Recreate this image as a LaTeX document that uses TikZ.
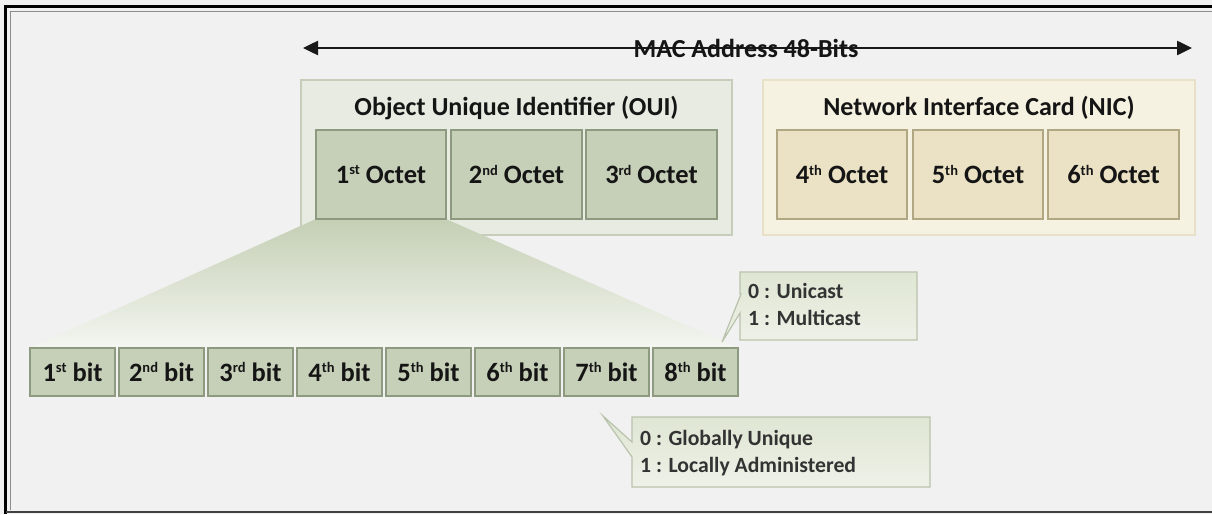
\documentclass[tikz,border=0pt]{standalone}
\usepackage{fontspec}
\setmainfont{Carlito}
\usetikzlibrary{arrows.meta}
\newcommand\ordsup[1]{\raisebox{8.5pt}{\fontsize{14.5}{15}\selectfont #1}}
\definecolor{bg}{HTML}{F1F1F1}
\definecolor{txt}{HTML}{151515}
\definecolor{ctxt}{HTML}{333333}
\definecolor{ouiF}{HTML}{E7EBE2}
\definecolor{ouiB}{HTML}{C6CEBB}
\definecolor{octF}{HTML}{C6D0B8}
\definecolor{octB}{HTML}{8D9A7F}
\definecolor{nicF}{HTML}{F6F2E1}
\definecolor{nicB}{HTML}{E8E1C8}
\definecolor{nocF}{HTML}{EBE2C5}
\definecolor{nocB}{HTML}{B2A783}
\definecolor{calB}{HTML}{B9C3AC}
\definecolor{calT}{HTML}{DFE6D3}
\definecolor{calBot}{HTML}{EEF1E8}
\definecolor{trapT}{HTML}{C4CFB4}
\definecolor{trapB}{HTML}{F4F6F1}
\tikzset{
  boxfont/.style={font=\fontsize{26.5}{30}\selectfont\bfseries, text=txt},
  group/.style={draw=ouiB, fill=ouiF, line width=1.5pt, inner sep=0pt},
  nicgroup/.style={draw=nicB, fill=nicF, line width=1.5pt, inner sep=0pt},
  titletext/.style={font=\fontsize{26}{30}\selectfont\bfseries, text=txt, inner sep=0pt},
  octetbox/.style={boxfont, draw=octB, fill=octF, line width=1.5pt, minimum width=130pt, minimum height=89pt, inner sep=0pt},
  nicoctet/.style={octetbox, draw=nocB, fill=nocF},
  bitbox/.style={font=\fontsize{26.5}{30}\selectfont\bfseries, text=txt, draw=octB, fill=octF, line width=1.5pt, minimum width=85pt, minimum height=48pt, inner sep=0pt},
  calltext/.style={font=\fontsize{21.7}{25}\selectfont\bfseries, text=ctxt, inner sep=0pt, anchor=base west},
  callshape/.style={draw=calB, line width=1.2pt, top color=calT, bottom color=calBot},
}
\begin{document}
\begin{tikzpicture}[x=1pt, y=-1pt]
\useasboundingbox (0,0) rectangle (1212,514);
\fill[bg] (0,0) rectangle (1212,514);
% frame
\draw[black, line width=2.5pt] (5.5,514) -- (5.5,6.5) -- (1212,6.5);
\draw[black!75, line width=2pt] (5.5,512) -- (1212,512);
\draw[black!45, line width=1pt] (10.5,510) -- (10.5,11) -- (1212,11);

% MAC arrow
\coordinate (al) at (303,48);
\coordinate (ar) at (1192,48);
\draw[line width=2.5pt, draw=black!90, {Triangle[length=15pt,width=14pt]}-{Triangle[length=15pt,width=14pt]}] (al) -- (ar);
\node[font=\fontsize{26}{30}\selectfont\bfseries, text=txt, inner sep=0pt, anchor=base] (mac) at (746,57) {MAC Address 48-Bits};

% OUI group
\node[group, minimum width=431pt, minimum height=155pt] (oui) at (516.5,157.5) {};
\node[titletext] (ouit) at (516.5,108) {Object Unique Identifier (OUI)};
% NIC group
\node[nicgroup, minimum width=432pt, minimum height=155pt] (nic) at (979,157.5) {};
\node[titletext] (nict) at (979,108) {Network Interface Card (NIC)};

% bits (positions)
\foreach \i in {1,...,8}{
  \coordinate (bc\i) at ({72.5+(\i-1)*89},372);
}
% zoom trapezoid
\coordinate (o1sw) at (316,219);
\coordinate (o1se) at (446,219);
\coordinate (b1nw) at (30,348);
\coordinate (b8ne) at (738,348);
\shade[top color=trapT, bottom color=trapB] (o1sw) -- (o1se) -- (b8ne) -- (b1nw) -- cycle;

% octets
\node[octetbox] (o1) at (381,174.5) {1\ordsup{st} Octet};
\node[octetbox, minimum width=131pt] (o2) at (516.5,174.5) {2\ordsup{nd} Octet};
\node[octetbox, minimum width=131pt] (o3) at (651.5,174.5) {3\ordsup{rd} Octet};
\node[nicoctet] (o4) at (842,174.5) {4\ordsup{th} Octet};
\node[nicoctet] (o5) at (978,174.5) {5\ordsup{th} Octet};
\node[nicoctet, minimum width=131pt] (o6) at (1113.5,174.5) {6\ordsup{th} Octet};

% bits
\foreach \i/\s in {1/st,2/nd,3/rd,4/th,5/th,6/th,7/th,8/th}{
  \node[bitbox] (b\i) at (bc\i) {\i\ordsup{\s} bit};
}

% callout 1
\shade[callshape] (740,272) -- (917,272) -- (917,340) -- (740,340) -- (740,313) -- (722,342) -- (741,294) -- (740,294) -- cycle;
\node[calltext] (u0) at (748,298) {0 : Unicast};
\node[calltext] (u1) at (748,325) {1 : Multicast};

% callout 2
\shade[callshape] (632,417) -- (930,417) -- (930,487) -- (632,487) -- (632,457) -- (603,416) -- (632,442) -- cycle;
\node[calltext] (g0) at (640,445) {0 : Globally Unique};
\node[calltext] (g1) at (640,472) {1 : Locally Administered};
\end{tikzpicture}
\end{document}
